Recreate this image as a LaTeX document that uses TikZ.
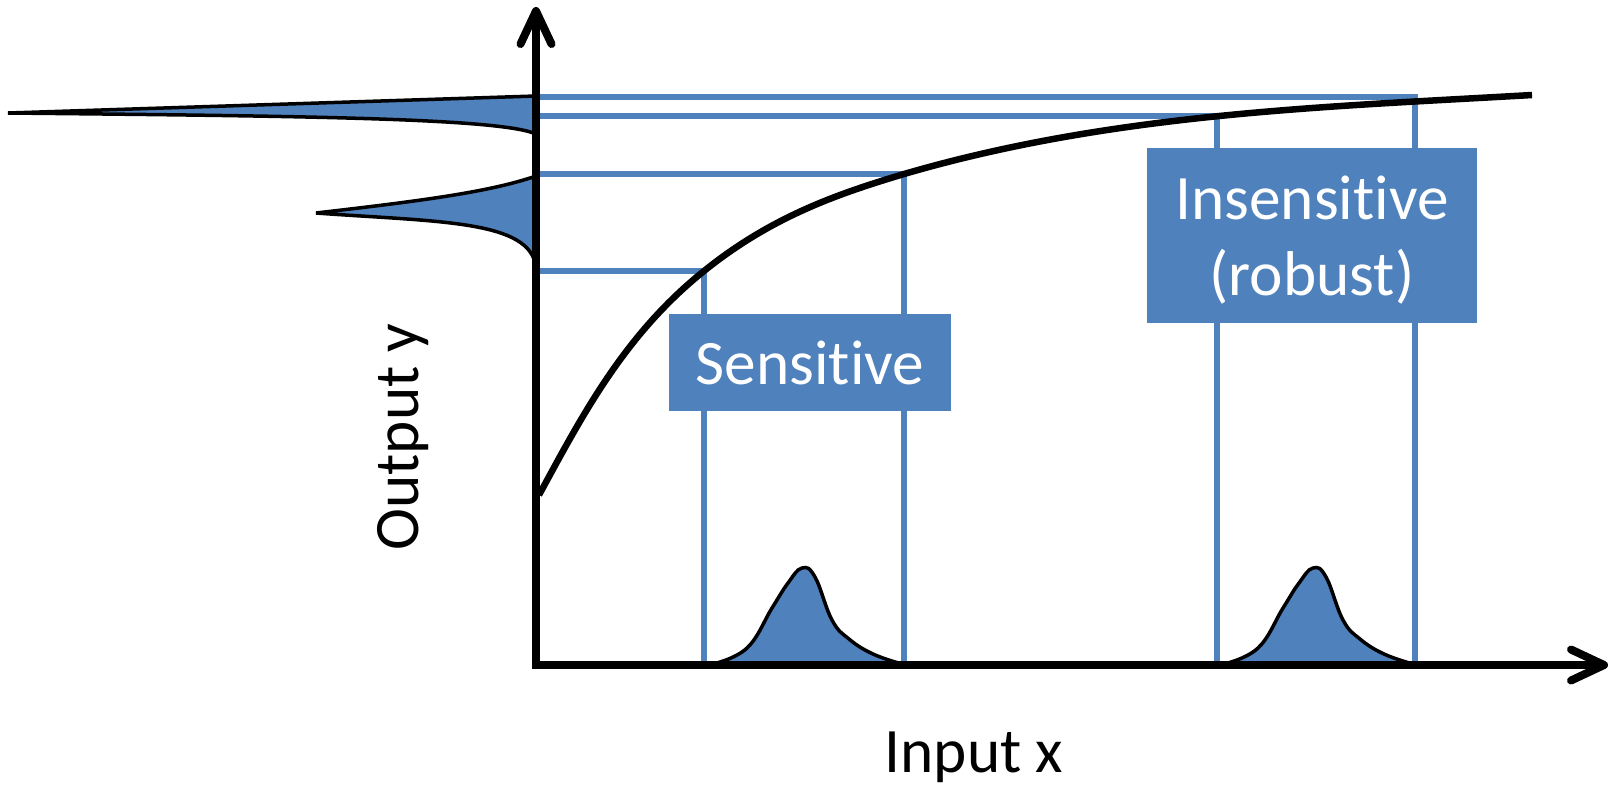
\documentclass[tikz,border=0pt]{standalone}
\usepackage{fontspec}
\setmainfont[Ligatures={NoCommon,NoRare}]{Carlito}
\usetikzlibrary{arrows.meta}
\definecolor{officeblue}{RGB}{79,129,189}

\begin{document}
\begin{tikzpicture}[x=0.01cm, y=-0.01cm, font=\fontsize{18}{21.5}\selectfont,
    barb/.tip={Straight Barb[length=3.3mm, width=3.1mm, round]},
    axis/.style={line width=0.08cm, barb-barb},
    level/.style={officeblue, line width=0.06cm},
    resp/.style={black, line width=0.065cm},
    dist/.style={fill=officeblue, draw=black, line width=0.035cm},
    tag/.style={fill=officeblue, text=white, inner sep=0pt, align=center}]

  \useasboundingbox (0,0) rectangle (1610,784);

  \def\ox{536};
  \def\oy{665};

  \coordinate (o) at (\ox,\oy);
  \coordinate (ytop) at (\ox,7);
  \coordinate (xend) at (1608,\oy);

  %levels: y on the axis, corner on the curve, foot on the x axis
  \foreach \name/\px/\py in {a/1415/97, b/1217/116, c/904/174, d/704/271}{
    \coordinate (y\name) at (\ox,\py);
    \coordinate (c\name) at (\px,\py);
    \coordinate (x\name) at (\px,\oy);
  }
  \foreach \name in {a,b,c,d}{
    \draw[level] (y\name) -- (c\name) -- (x\name);
  }

  %output spread on the y axis
  \draw[dist] (\ox,96) -- (8,113) .. controls (300,116) and (500,118) .. (\ox,134) -- cycle;
  \draw[dist] (\ox,176) .. controls (490,192) and (420,201) .. (316,213)
              .. controls (440,222) and (530,220) .. (\ox,267) -- cycle;

  %input spread on the x axis
  \foreach \bx in {802,1313}{
    \draw[dist, shift={(\bx,568)}] plot[smooth, tension=0.7] coordinates {(-89,96) (-55,80) (-30,40) (-14,15) (0,0) (13,9) (30,52) (47,71) (71,86) (100,96)} -- cycle;
  }

  %response curve
  \coordinate (c0) at (539,495);
  \coordinate (c9) at (1532,95);
  \draw[resp] (c0) .. controls (582,416) and (624,335) .. (cd)
                   .. controls (771,217) and (837,194) .. (cc)
                   .. controls (1113,113) and (1323,107) .. (c9);

  \node[tag, minimum width=2.82cm, minimum height=0.97cm] (sens) at (810,362.5) {Sensitive};
  \node[tag, text depth=0pt, minimum width=3.30cm, minimum height=1.75cm] (insens) at (1312,235.5) {Insensitive\\(robust)};

  %axes
  \draw[axis] (ytop) -- (o) -- (xend);

  \node[anchor=base, rotate=90] (ylab) at (418,437) {Output y};
  \node[anchor=base] (xlab) at (974,772) {Input x};

\end{tikzpicture}
\end{document}
